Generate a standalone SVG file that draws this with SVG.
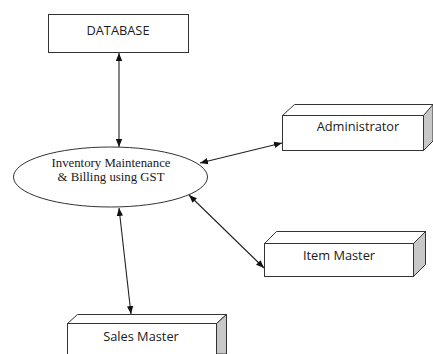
<svg xmlns="http://www.w3.org/2000/svg" width="433" height="354" viewBox="0 0 433 354">
<style>
.box{fill:#fff;stroke:#333;stroke-width:1}
.side{fill:#c8c8c8;stroke:#333;stroke-width:1}
.lbl{font-family:"Open Sans","Liberation Sans",sans-serif;font-size:12.8px;fill:#1a1a1a;text-anchor:middle}
.ser{font-family:"Liberation Serif","Times New Roman",serif;font-size:12.8px;fill:#1a1a1a;text-anchor:middle}
.con{stroke:#222;stroke-width:1.1;fill:none;marker-start:url(#ah);marker-end:url(#ah)}
</style>
<defs>
<marker id="ah" viewBox="0 0 10 8" refX="10" refY="4" markerWidth="8" markerHeight="7" markerUnits="userSpaceOnUse" orient="auto-start-reverse">
<path d="M0,0 L10,4 L0,8 Z" fill="#111"/>
</marker>
</defs>
<rect width="433" height="354" fill="#fff"/>
<g id="database">
<rect class="box" x="48.5" y="14.5" width="140" height="38"/>
<text class="lbl" x="118" y="35">DATABASE</text>
</g>
<g id="process">
<ellipse cx="110.5" cy="177" rx="97" ry="30" fill="#fff" stroke="#333" stroke-width="1"/>
<text class="ser" x="111" y="167">Inventory Maintenance</text>
<text class="ser" x="111" y="181">&amp; Billing using GST</text>
</g>
<g id="administrator">
<polygon class="box" points="282.5,115.5 294.5,104.5 433,104.5 433,115.5 423.5,115.5"/>
<polygon class="side" points="423.5,115.5 433,104.5 433,141 423.5,150.5"/>
<rect class="box" x="282.5" y="115.5" width="141" height="35"/>
<text class="lbl" x="358" y="131">Administrator</text>
</g>
<g id="itemmaster">
<polygon class="box" points="264.5,243.5 276.5,231.5 425.5,231.5 413.5,243.5"/>
<polygon class="side" points="413.5,243.5 425.5,231.5 425.5,264.5 413.5,276.5"/>
<rect class="box" x="264.5" y="243.5" width="149" height="33"/>
<text class="lbl" x="339" y="260">Item Master</text>
</g>
<g id="salesmaster">
<polygon class="box" points="67.5,323.5 77.5,314.5 226.5,314.5 216.5,323.5"/>
<polygon class="side" points="216.5,323.5 226.5,314.5 226.5,354 216.5,354"/>
<rect class="box" x="67.5" y="323.5" width="149" height="40"/>
<text class="lbl" x="141" y="341">Sales Master</text>
</g>
<g id="connectors">
<line class="con" x1="119" y1="53" x2="119" y2="147"/>
<line class="con" x1="200" y1="163" x2="282" y2="143"/>
<line class="con" x1="189" y1="195" x2="264" y2="268"/>
<line class="con" x1="119" y1="208" x2="131" y2="314"/>
</g>
</svg>
